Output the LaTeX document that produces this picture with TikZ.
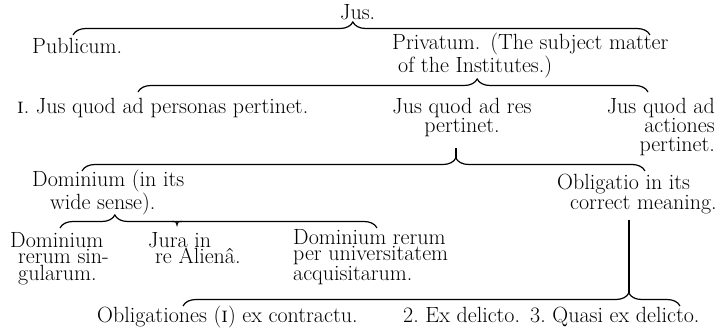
\documentclass[tikz,border=0pt]{standalone}
\usetikzlibrary{decorations.pathreplacing,calc}
\begin{document}
\begin{tikzpicture}[x=1pt,y=-1pt,
  lbl/.style={inner sep=0pt, font=\fontsize{22}{19}\selectfont},
  lblb/.style={lbl, font=\fontsize{22}{18}\selectfont},
  lblc/.style={lbl, font=\fontsize{22}{16.5}\selectfont},
  bracestyle/.style={line width=1.2pt, decorate, decoration={brace, amplitude=13pt, aspect=#1}},
  stem/.style={line width=1.2pt}]
\useasboundingbox (0,0) rectangle (720,333);

% texts (for multi-line nodes the base anchor is the baseline of the last line)
\node[lbl, anchor=base west] (jus) at (340,19) {Jus.};
\node[lbl, anchor=base west] (pub) at (32,53) {Publicum.};
\node[lbl, anchor=base west, align=left] (priv) at (392,72) {Privatum.\hspace{10pt}(The subject matter\\\hspace*{6pt}of the Institutes.)};
\node[lbl, anchor=base west] (pers) at (17,113) {\textsc{i}.\ Jus quod ad personas pertinet.};
\node[lbl, anchor=base, align=center] (res) at (462,132) {Jus quod ad res\\pertinet.};
\node[lbl, anchor=base east, align=right] (act) at (715,151) {Jus quod ad\\actiones\hspace*{15pt}\\pertinet.};
\node[lblb, anchor=base west, align=left] (domw) at (32,209) {Dominium (in its\\\hspace*{18pt}wide sense).};
\node[lblb, anchor=base west, align=left] (obl) at (557,209) {Obligatio in its\\\hspace*{13pt}correct meaning.};
\node[lblc, anchor=base west, align=left] (doms) at (10,280) {Dominium\\\hspace*{8pt}rerum sin-\\\hspace*{8pt}gularum.};
\node[lblc, anchor=base west, align=left] (jura) at (148,263.5) {Jura in\\\hspace*{7pt}re Alienâ.};
\node[lblc, anchor=base west, align=left] (domu) at (293,280) {Dominium rerum\\per universitatem\\acquisitarum.};
\node[lbl, anchor=base west] (ob1) at (97,322) {Obligationes (\textsc{i}) ex contractu.};
\node[lbl, anchor=base west] (ob2) at (403,322) {2.\ Ex delicto.};
\node[lbl, anchor=base west] (ob3) at (530,322) {3.\ Quasi ex delicto.};

% brace end points and tips
\coordinate (b1l) at (73,35);  \coordinate (b1r) at (650,35);
\coordinate (b2l) at (138,92); \coordinate (b2r) at (648,92);
\coordinate (b3l) at (82,171); \coordinate (b3r) at (645,171);
\coordinate (t3) at (456,158);
\coordinate (b4l) at (60,228); \coordinate (b4r) at (377,228);
\coordinate (b5l) at (183,306); \coordinate (b5r) at (680,306);
\coordinate (t5) at (629,293);

% braces
\draw[bracestyle=0.485] (b1l) -- (b1r);
\draw[bracestyle=0.665] (b2l) -- (b2r);
\draw[bracestyle=0.664] (b3l) -- (b3r);
\draw[bracestyle=0.173] (b4l) -- (b4r);
\draw[line width=1.1pt] (172,221.5) .. controls (176,221.5) .. (177,225) .. controls (178,221.5) .. (182,221.5);
\draw[bracestyle=0.897] (b5l) -- (b5r);

% stems
\draw[stem] ($(res.south -| t3)+(0,12)$) -- (t3);
\draw[stem] ($(obl.south -| t5)+(0,6)$) -- (t5);
\end{tikzpicture}
\end{document}
